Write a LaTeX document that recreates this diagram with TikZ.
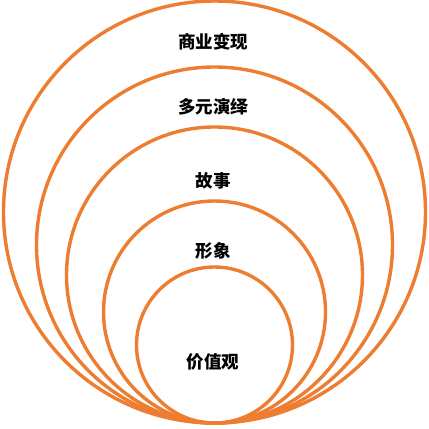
\documentclass[tikz,border=0pt]{standalone}
\usepackage{fontspec}
\setmainfont{Noto Sans CJK SC}
\usetikzlibrary{positioning}
\definecolor{ringorange}{RGB}{237,125,49}
\tikzstyle{ring} = [circle, draw = ringorange, line width = 3.4pt, inner sep = 0pt, outer sep = 0pt]

\begin{document}
\begin{tikzpicture}[
            x = 1pt, y = -1pt, % pixel-like units, y down
            every node/.style = {font = \fontsize{17.5}{19}\selectfont\bfseries}
        ]

        \useasboundingbox (0,0) rectangle (429,429);

        % nested rings, all touching the bottom
        \node[ring, minimum size = 422pt] (commerce) at (214.5,212) {};
        \node[ring, minimum size = 356pt] (multi) at (214.5,245) {};
        \node[ring, minimum size = 296pt] (story) at (214.5,275) {};
        \node[ring, minimum size = 222pt] (image) at (214.5,312) {};
        \node[ring, minimum size = 156pt] (values) at (214.5,345) {};

        % labels
        \node (tcommerce) at (213,42) {商业变现};
        \node (tmulti) at (213,107) {多元演绎};
        \node (tstory) at (213,181) {故事};
        \node (timage) at (213,251) {形象};
        \node (tvalues) at (213,362) {价值观};

    \end{tikzpicture}
\end{document}
